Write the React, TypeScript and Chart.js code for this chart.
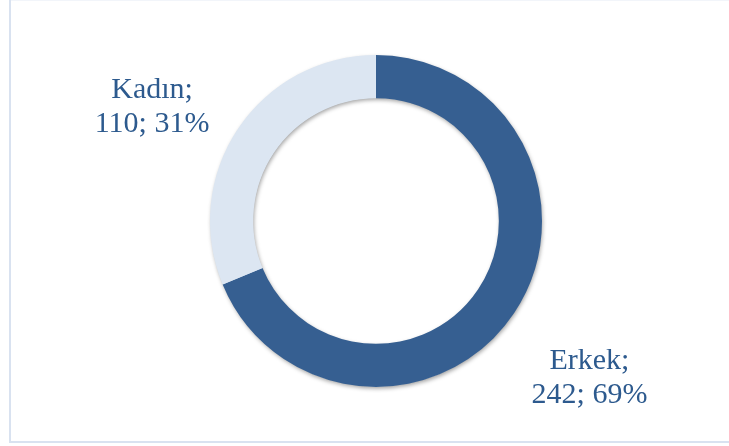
import React, { useEffect, useRef } from "react";
import { Chart, registerables } from "chart.js";

Chart.register(...registerables);

const categories = ["Erkek", "Kadın"];
const values = [242, 110];
const colors = ["#365F91", "#DCE6F2"];

const TEXT_COLOR = "#2D5A8E";
const FONT = '30px "Liberation Serif", "Times New Roman", serif';

// label anchors relative to doughnut centre, in units of the outer radius
const labelAnchors = [
  [1.286, 0.994],
  [-1.349, -0.639],
];

// draws one ring-shaped shadow under the whole doughnut
const shadowPlugin = {
  id: "ringShadow",
  beforeDatasetsDraw(chart: any) {
    const meta = chart.getDatasetMeta(0);
    const arc = meta.data[0];
    if (!arc) return;
    const { x, y, outerRadius, innerRadius } = arc.getProps(
      ["x", "y", "outerRadius", "innerRadius"],
      true
    );
    const ctx = chart.ctx;
    ctx.save();
    ctx.shadowColor = "rgba(0,0,0,0.38)";
    ctx.shadowBlur = 4;
    ctx.shadowOffsetX = 1;
    ctx.shadowOffsetY = 2;
    ctx.fillStyle = "#DCE6F2";
    ctx.beginPath();
    ctx.arc(x, y, outerRadius - 0.5, 0, Math.PI * 2, false);
    ctx.arc(x, y, innerRadius + 0.5, Math.PI * 2, 0, true);
    ctx.closePath();
    ctx.fill("evenodd");
    ctx.restore();
  },
};

// chart frame: left and bottom lines only, like the reference
const framePlugin = {
  id: "frame",
  beforeDraw(chart: any) {
    const ctx = chart.ctx;
    ctx.save();
    ctx.fillStyle = "#FFFFFF";
    ctx.fillRect(0, 0, chart.width, chart.height);
    ctx.fillStyle = "#F2F5FA";
    ctx.fillRect(9, 0, chart.width - 9, 1);
    ctx.fillStyle = "#D9E2F0";
    ctx.fillRect(9, 0, 2, 443);
    ctx.fillRect(9, 441, chart.width - 9, 2);
    ctx.restore();
  },
};

const labelPlugin = {
  id: "outsideLabels",
  afterDraw(chart: any) {
    const ctx = chart.ctx;
    const meta = chart.getDatasetMeta(0);
    const data = chart.data.datasets[0].data as number[];
    const total = data.reduce((a, b) => a + b, 0);
    ctx.save();
    ctx.font = FONT;
    ctx.fillStyle = TEXT_COLOR;
    ctx.textAlign = "center";
    ctx.textBaseline = "alphabetic";
    meta.data.forEach((arc: any, i: number) => {
      const { x, y, outerRadius } = arc.getProps(["x", "y", "outerRadius"], true);
      const ax = x + labelAnchors[i][0] * outerRadius;
      const ay = y + labelAnchors[i][1] * outerRadius;
      const pct = Math.round((data[i] / total) * 100);
      ctx.fillText(chart.data.labels[i] + ";", ax, ay - 17);
      ctx.fillText(`${data[i]}; ${pct}%`, ax, ay + 17);
    });
    ctx.restore();
  },
};

export default function App() {
  const ref = useRef<HTMLCanvasElement | null>(null);
  useEffect(() => {
    document.body.style.margin = "0";
    document.body.style.overflow = "hidden";
    document.documentElement.style.overflow = "hidden";
    if (!ref.current) return;
    const chart = new Chart(ref.current, {
      type: "doughnut",
      data: {
        labels: categories,
        datasets: [
          {
            data: values,
            backgroundColor: colors,
            borderWidth: 0,
          },
        ],
      },
      options: {
        animation: false,
        responsive: false,
        maintainAspectRatio: false,
        cutout: "74%",
        layout: { padding: { left: 23, right: 0, top: 55, bottom: 59 } },
        plugins: {
          legend: { display: false },
          tooltip: { enabled: false },
        },
      },
      plugins: [framePlugin, shadowPlugin, labelPlugin],
    });
    return () => chart.destroy();
  }, []);

  return (
    <canvas
      ref={ref}
      width={729}
      height={446}
      style={{ display: "block", width: 729, height: 446 }}
    />
  );
}
